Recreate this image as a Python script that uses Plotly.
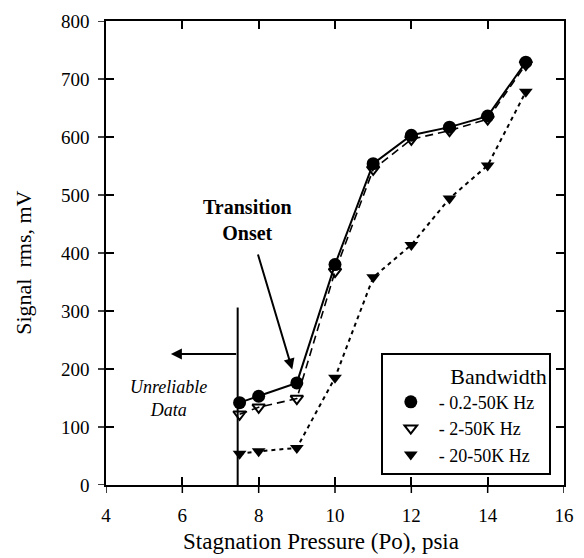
import plotly.graph_objects as go

# Stagnation pressure (psia) at which the signal was sampled
pressure = [7.5, 8, 9, 10, 11, 12, 13, 14, 15]

# RMS signal (mV) for each filter bandwidth
rms_02_50k = [142, 153, 176, 380, 554, 603, 617, 636, 729]
rms_2_50k = [122, 134, 149, 368, 544, 596, 611, 631, 725]
rms_20_50k = [54, 58, 64, 185, 358, 414, 494, 551, 678]

legend_labels = ["- 0.2-50K Hz", "- 2-50K Hz", "- 20-50K Hz"]
x_ticks = [4, 6, 8, 10, 12, 14, 16]
y_ticks = [0, 100, 200, 300, 400, 500, 600, 700, 800]
x_range = [4, 16]
y_range = [0, 800]

FONT = "Liberation Serif"
INK = "black"
TICK_LEN = 8

fig = go.Figure()

# data series (drawn back to front so the circles sit on top)
fig.add_trace(go.Scatter(
    x=pressure, y=rms_20_50k, mode="lines+markers", showlegend=False,
    line=dict(color=INK, width=2, dash="4px,4px"),
    marker=dict(symbol="triangle-down", size=12, color=INK)))
fig.add_trace(go.Scatter(
    x=pressure, y=rms_2_50k, mode="lines+markers", showlegend=False,
    line=dict(color=INK, width=1.6, dash="8px,5px"),
    marker=dict(symbol="triangle-down-open", size=11, color=INK,
                line=dict(width=2, color=INK))))
fig.add_trace(go.Scatter(
    x=pressure, y=rms_02_50k, mode="lines+markers", showlegend=False,
    line=dict(color=INK, width=2),
    marker=dict(symbol="circle", size=13, color=INK)))

# legend entries show the markers only
legend_markers = [
    dict(symbol="circle", size=13, color=INK),
    dict(symbol="triangle-down-open", size=11, color=INK, line=dict(width=2, color=INK)),
    dict(symbol="triangle-down", size=12, color=INK),
]
for name, mk in zip(legend_labels, legend_markers):
    fig.add_trace(go.Scatter(x=[None], y=[None], mode="markers",
                             name=name + "\u00a0\u00a0", marker=mk))

# outward half of the crossing ticks on the bottom and left edges
for xv in x_ticks:
    fig.add_shape(type="line", xref="x", yref="paper", ysizemode="pixel",
                  yanchor=0, x0=xv, x1=xv, y0=0, y1=-TICK_LEN,
                  line=dict(color=INK, width=1.5))
for yv in y_ticks:
    fig.add_shape(type="line", xref="paper", yref="y", xsizemode="pixel",
                  xanchor=0, y0=yv, y1=yv, x0=0, x1=-TICK_LEN,
                  line=dict(color=INK, width=1.5))

# cut-off line for the low-pressure region and its arrow
fig.add_shape(type="line", x0=7.45, x1=7.45, y0=0, y1=306,
              line=dict(color=INK, width=2))
fig.add_annotation(x=5.7, y=226, ax=7.45, ay=226, axref="x", ayref="y",
                   xref="x", yref="y", text="", showarrow=True,
                   arrowhead=2, arrowsize=1.1, arrowwidth=2, arrowcolor=INK)
fig.add_annotation(x=5.64, y=150, xref="x", yref="y", showarrow=False,
                   text="<i>Unreliable</i><br><i>Data</i>",
                   font=dict(family=FONT, size=18, color=INK))

# transition onset marker
fig.add_annotation(x=8.88, y=199, ax=7.97, ay=400, axref="x", ayref="y",
                   xref="x", yref="y", text="", showarrow=True,
                   arrowhead=2, arrowsize=1.1, arrowwidth=2, arrowcolor=INK)
fig.add_annotation(x=7.72, y=457, xref="x", yref="y", showarrow=False,
                   text="<b>Transition</b><br><b>Onset</b>",
                   font=dict(family=FONT, size=20, color=INK))

# axis titles
fig.add_annotation(x=-0.18, y=0.478, xref="paper", yref="paper", showarrow=False,
                   text="Signal\u00a0 rms, mV", textangle=-90,
                   xanchor="center", yanchor="middle",
                   font=dict(family=FONT, size=22, color=INK))
fig.add_annotation(x=0.47, y=-0.121, xref="paper", yref="paper", showarrow=False,
                   text="Stagnation Pressure (Po), psia",
                   xanchor="center", yanchor="middle",
                   font=dict(family=FONT, size=23, color=INK))

axis_common = dict(showgrid=False, zeroline=False, linecolor=INK, tickcolor=INK,
                   tickwidth=1.5, ticklen=TICK_LEN)

fig.update_layout(
    width=584, height=558,
    margin=dict(l=106, r=10, t=21, b=73),
    paper_bgcolor="white", plot_bgcolor="white",
    font=dict(family=FONT, color=INK),
    # frame: ticks point inward on all four sides
    xaxis=dict(range=x_range, tickvals=x_ticks, ticks="inside", showline=True,
               linewidth=1.5, mirror="ticks", ticklabelstandoff=12,
               tickfont=dict(family=FONT, size=19, color=INK), **axis_common),
    yaxis=dict(range=y_range, tickvals=y_ticks, ticks="inside", showline=True,
               linewidth=1.5, mirror="ticks", ticklabelstandoff=11,
               tickfont=dict(family=FONT, size=19, color=INK), **axis_common),
    legend=dict(
        x=0.6, y=0.2845, xanchor="left", yanchor="top",
        bgcolor="white", bordercolor=INK, borderwidth=2,
        font=dict(family=FONT, size=18, color=INK),
        title=dict(text="Bandwidth", side="top right",
                   font=dict(family=FONT, size=22, color=INK)),
        tracegroupgap=0, itemwidth=46,
    ),
)

fig.write_html("out.html")
